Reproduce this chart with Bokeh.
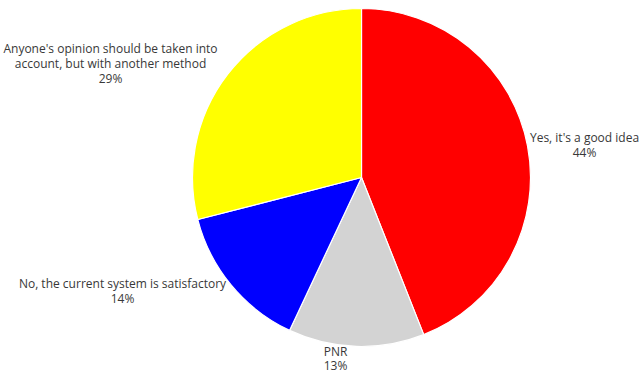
import math
from bokeh.plotting import figure
from bokeh.models import Range1d, ColumnDataSource
from bokeh.core.properties import value
from bokeh.embed import file_html
from bokeh.resources import INLINE

categories = ["Yes, it's a good idea", "PNR", "No, the current system is satisfactory",
              "Anyone's opinion should be taken into|account, but with another method"]
percents = [44, 13, 14, 29]
colors = ["#ff0000", "#d3d3d3", "#0000ff", "#ffff00"]

W, H = 642, 373
cx, cy, r = 361, H - 177, 169

starts, ends = [], []
cum = 0.0
total = sum(percents)
for v in percents:
    starts.append(math.pi / 2 - 2 * math.pi * cum / total)
    cum += v
    ends.append(math.pi / 2 - 2 * math.pi * cum / total)

src = ColumnDataSource(dict(start=starts, end=ends, color=colors))

p = figure(width=W, height=H, output_backend="svg", toolbar_location=None,
           x_range=Range1d(0, W), y_range=Range1d(0, H), min_border=0)
p.axis.visible = False
p.grid.visible = False
p.outline_line_color = None
p.background_fill_color = "white"
p.border_fill_color = "white"

p.wedge(x=cx, y=cy, radius=r, start_angle="start", end_angle="end", direction="clock",
        fill_color="color", line_color="white", line_width=1.2, source=src)

# label anchor positions (pixel layout): center x, first line center y
label_pos = [(584, 137), (335, 351), (122, 283), (110, 48)]
steps = [15, 14, 15, 15]
lx, ly, lt = [], [], []
for (x, y), st, c, v in zip(label_pos, steps, categories, percents):
    lines = c.split("|") + [f"{v}%"]
    for i, line in enumerate(lines):
        lx.append(x)
        ly.append(H - (y + i * st))
        lt.append(line)

p.text(x=lx, y=ly, text=lt, text_align="center", text_baseline="middle",
       text_font=value("Open Sans"), text_font_size="12px", text_color="#383838")

open("out.html", "w").write(file_html(p, INLINE))
